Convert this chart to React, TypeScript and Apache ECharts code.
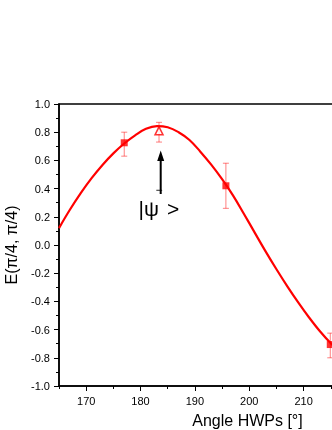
import React, { useEffect, useRef } from "react";
import * as echarts from "echarts";

// Fitted curve
const curveX = [165, 167, 169, 171, 173, 175, 177, 179, 181, 183, 185, 187, 189, 191, 193, 195, 197, 199, 201, 203, 205, 207, 209, 211, 213, 215, 217];
const curveY = [0.12, 0.25, 0.368, 0.474, 0.568, 0.65, 0.72, 0.778, 0.824, 0.843, 0.835, 0.8, 0.745, 0.662, 0.57, 0.467, 0.352, 0.222, 0.088, -0.045, -0.172, -0.293, -0.407, -0.514, -0.612, -0.697, -0.765];

// Measured points (squares)
const pointX = [177, 195.7, 214.9];
const pointY = [0.725, 0.42, -0.706];
const pointLow = [0.63, 0.26, -0.8];
const pointHigh = [0.8, 0.58, -0.625];

// Open triangle point
const triX = [183.4];
const triY = [0.81];
const triLow = [0.73];
const triHigh = [0.87];

const xMajorTicks = [170, 180, 190, 200, 210, 220];
const xTickLabels = [170, 180, 190, 200, 210];
const xMinorTicks = [165, 175, 185, 195, 205, 215];

const FONT = "Liberation Sans, Arial, Helvetica, sans-serif";

export default function App() {
  const ref = useRef<HTMLDivElement>(null);
  useEffect(() => {
    if (!ref.current) return;
    const chart = echarts.init(ref.current, undefined, { renderer: "svg" });

    const errData = [
      ...pointX.map((x, i) => [x, pointY[i], pointLow[i], pointHigh[i]]),
      ...triX.map((x, i) => [x, triY[i], triLow[i], triHigh[i]]),
    ];

    const errColor = "rgba(255,0,0,0.5)";

    chart.setOption({
      animation: false,
      grid: {
        left: 59,
        top: 104,
        bottom: 44,
        right: -26,
        outerBoundsMode: "none",
        containLabel: false,
        show: true,
        borderColor: "#000",
        borderWidth: 1.5,
        backgroundColor: "transparent",
      },
      xAxis: [
        {
          type: "value",
          min: 165,
          max: 220,
          position: "bottom",
          axisLine: { show: true, onZero: false, lineStyle: { color: "#000", width: 1.5 } },
          axisTick: { show: true, length: 5, customValues: xMajorTicks, lineStyle: { color: "#000", width: 1 } },
          axisLabel: { customValues: xTickLabels, fontSize: 11, color: "#000", fontFamily: FONT, margin: 9 },
          splitLine: { show: false },
        },
        {
          type: "value",
          min: 165,
          max: 220,
          position: "bottom",
          axisLine: { show: false, onZero: false },
          axisTick: { show: true, length: 3, customValues: xMinorTicks, lineStyle: { color: "#000", width: 1 } },
          axisLabel: { show: false },
          splitLine: { show: false },
        },
      ],
      yAxis: {
        type: "value",
        min: -1,
        max: 1,
        interval: 0.2,
        name: "E(π/4, π/4)",
        nameLocation: "middle",
        nameGap: 40,
        nameTextStyle: { fontSize: 16, color: "#000", fontFamily: FONT },
        axisLine: { show: true, onZero: false, lineStyle: { color: "#000", width: 1.5 } },
        axisTick: { show: true, length: 5, lineStyle: { color: "#000", width: 1 } },
        minorTick: { show: true, splitNumber: 2, length: 3, lineStyle: { color: "#000", width: 1 } },
        axisLabel: {
          fontSize: 11,
          color: "#000",
          fontFamily: FONT,
          margin: 9,
          formatter: (v: number) => v.toFixed(1),
        },
        splitLine: { show: false },
      },
      graphic: [
        {
          type: "line",
          shape: { x1: 160.7, y1: 158, x2: 160.7, y2: 194 },
          style: { stroke: "#000", lineWidth: 2 },
        },
        {
          type: "polygon",
          shape: { points: [[157.2, 161], [160.7, 150.5], [164.2, 161]] },
          style: { fill: "#000" },
        },
        {
          type: "text",
          x: 138.5,
          y: 208,
          style: { text: "|ψ", fontSize: 21, fontFamily: FONT, fill: "#000", textVerticalAlign: "middle", textAlign: "left" },
        },
        {
          type: "text",
          x: 159,
          y: 190,
          style: { text: "−", fontSize: 12, fontFamily: FONT, fill: "#000", textVerticalAlign: "middle", textAlign: "center" },
        },
        {
          type: "text",
          x: 167,
          y: 208,
          style: { text: ">", fontSize: 21, fontFamily: FONT, fill: "#000", textVerticalAlign: "middle", textAlign: "left" },
        },
        {
          type: "text",
          x: 247.5,
          y: 420,
          style: { text: "Angle HWPs [°]", fontSize: 16, fontFamily: FONT, fill: "#000", textVerticalAlign: "middle", textAlign: "center" },
        },
      ],
      series: [
        {
          type: "line",
          data: curveX.map((x, i) => [x, curveY[i]]),
          smooth: 0.4,
          showSymbol: false,
          lineStyle: { color: "#ff0000", width: 2.2 },
          z: 2,
        },
        {
          type: "custom",
          data: errData,
          z: 3,
          renderItem: (params: any, api: any) => {
            const x = api.value(0);
            const lo = api.coord([x, api.value(2)]);
            const hi = api.coord([x, api.value(3)]);
            const w = 3;
            const st = { stroke: errColor, lineWidth: 1 };
            return {
              type: "group",
              children: [
                { type: "line", shape: { x1: lo[0], y1: lo[1], x2: hi[0], y2: hi[1] }, style: st },
                { type: "line", shape: { x1: lo[0] - w, y1: lo[1], x2: lo[0] + w, y2: lo[1] }, style: st },
                { type: "line", shape: { x1: hi[0] - w, y1: hi[1], x2: hi[0] + w, y2: hi[1] }, style: st },
              ],
            };
          },
        },
        {
          type: "scatter",
          data: pointX.map((x, i) => [x, pointY[i]]),
          symbol: "rect",
          symbolSize: 7,
          itemStyle: { color: "#ff0000" },
          z: 4,
        },
        {
          type: "scatter",
          data: triX.map((x, i) => [x, triY[i]]),
          symbol: "triangle",
          symbolSize: 8,
          itemStyle: { color: "#fff", borderColor: "#ff0000", borderWidth: 1.5 },
          z: 4,
        },
      ],
    });
    return () => chart.dispose();
  }, []);
  return <div ref={ref} style={{ position: "fixed", left: 0, top: 0, width: 332, height: 430 }} />;
}
